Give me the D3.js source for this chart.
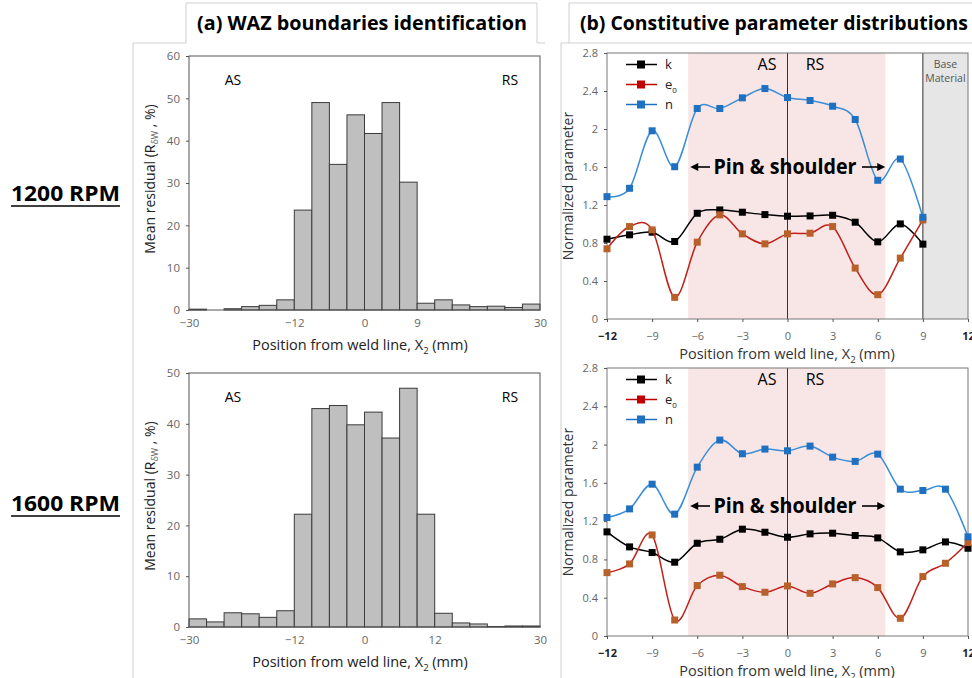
<!DOCTYPE html>
<html>
<head>
<meta charset="utf-8">
<script src="https://cdn.jsdelivr.net/npm/d3@7"></script>
<style>
  body { margin: 0; background: #fff; }
  text { font-family: "Open Sans", "Noto Sans", sans-serif; }
</style>
</head>
<body>
<svg id="chart" width="972" height="678"></svg>
<script>
// histogram bins (lower edge, mm), 3 mm wide
const binStarts = [-30, -27, -24, -21, -18, -15, -12, -9, -6, -3, 0, 3, 6, 9, 12, 15, 18, 21, 24, 27]
const residual1200 = [0.2, 0, 0.3, 0.8, 1.1, 2.4, 23.6, 49.0, 34.4, 46.1, 41.7, 49.0, 30.2, 1.6, 2.4, 1.2, 0.8, 0.9, 0.6, 1.4]
const residual1600 = [1.6, 1.0, 2.8, 2.6, 1.9, 3.2, 22.2, 43.0, 43.6, 39.8, 42.3, 37.2, 47.0, 22.2, 2.7, 0.8, 0.6, 0.1, 0.2, 0.2]
const histTicks1200 = [-30, -12, 0, 9, 30]
const histTicks1600 = [-30, -12, 0, 12, 30]

// constitutive parameters
const pos1200 = [-12, -10.5, -9, -7.5, -6, -4.5, -3, -1.5, 0, 1.5, 3, 4.5, 6, 7.5, 9]
const k1200 = [0.84, 0.886, 0.914, 0.816, 1.113, 1.148, 1.124, 1.099, 1.082, 1.085, 1.092, 1.019, 0.812, 1.001, 0.788]
const e1200 = [0.739, 0.973, 0.938, 0.228, 0.809, 1.096, 0.896, 0.791, 0.896, 0.903, 0.973, 0.536, 0.256, 0.641, 1.043]
const n1200 = [1.288, 1.376, 1.981, 1.603, 2.216, 2.216, 2.328, 2.426, 2.331, 2.30, 2.24, 2.10, 1.46, 1.684, 1.071]

const pos1600 = [-12, -10.5, -9, -7.5, -6, -4.5, -3, -1.5, 0, 1.5, 3, 4.5, 6, 7.5, 9, 10.5, 12]
const k1600 = [1.088, 0.931, 0.872, 0.771, 0.969, 1.011, 1.116, 1.084, 1.032, 1.067, 1.074, 1.050, 1.025, 0.879, 0.900, 0.983, 0.917]
const e1600 = [0.662, 0.753, 1.056, 0.167, 0.527, 0.635, 0.516, 0.457, 0.523, 0.446, 0.544, 0.610, 0.506, 0.185, 0.621, 0.760, 0.976]
const n1600 = [1.238, 1.328, 1.586, 1.273, 1.764, 2.047, 1.904, 1.953, 1.935, 1.984, 1.869, 1.824, 1.900, 1.534, 1.520, 1.534, 1.036]

const lineTicksX = [-12, -9, -6, -3, 0, 3, 6, 9, 12]
const lineTicksY = [0, 0.4, 0.8, 1.2, 1.6, 2, 2.4, 2.8]
const pinZone = [-6.6, 6.5]
const baseZone = [9, 12]

const series = [
  { name: 'k', line: '#000000', marker: '#000000', legend: '#000000' },
  { name: 'e', line: '#c0201a', marker: '#b8602a', legend: '#c00000' },
  { name: 'n', line: '#3a8dd6', marker: '#1f70c0', legend: '#1f70c0' }
]

const svg = d3.select('#chart')

// panel frames
svg.append('path')
  .attr('d', 'M133,678 V43 H186 V3 H537 V43 H545')
  .attr('fill', 'none').attr('stroke', '#cfcfcf')
svg.append('path')
  .attr('d', 'M561,678 V43 H569 V3 H980 M569,43 H980')
  .attr('fill', 'none').attr('stroke', '#cfcfcf')

svg.append('text').text('(a) WAZ boundaries identification')
  .attr('x', 197).attr('y', 30).attr('font-size', 20).attr('font-weight', 'bold')
  .attr('textLength', 330).attr('lengthAdjust', 'spacingAndGlyphs')
svg.append('text').text('(b) Constitutive parameter distributions')
  .attr('x', 580).attr('y', 30).attr('font-size', 20).attr('font-weight', 'bold')
  .attr('textLength', 388).attr('lengthAdjust', 'spacingAndGlyphs')

const rowLabel = (label, y) => {
  svg.append('text').text(label)
    .attr('x', 11).attr('y', y).attr('font-size', 22).attr('font-weight', 'bold')
    .attr('textLength', 109).attr('lengthAdjust', 'spacingAndGlyphs')
  svg.append('line').attr('x1', 11).attr('x2', 120).attr('y1', y + 5).attr('y2', y + 5)
    .attr('stroke', '#000').attr('stroke-width', 1.5)
}
rowLabel('1200 RPM', 201)
rowLabel('1600 RPM', 511)

function drawHist(values, ticks, yMax, top, bottom) {
  const x = d3.scaleLinear().domain([-30, 30]).range([189, 540])
  const y = d3.scaleLinear().domain([0, yMax]).range([bottom, top])
  const g = svg.append('g')

  g.selectAll('rect.bar')
    .data(values)
    .enter()
    .append('rect')
    .attr('x', (d, i) => x(binStarts[i]))
    .attr('width', (d, i) => x(binStarts[i] + 3) - x(binStarts[i]))
    .attr('y', d => y(d))
    .attr('height', d => y(0) - y(d))
    .attr('fill', '#bfbfbf')
    .attr('stroke', '#3a3a3a')
    .attr('stroke-width', 1)

  g.append('rect')
    .attr('x', 189).attr('y', top).attr('width', 351).attr('height', bottom - top)
    .attr('fill', 'none').attr('stroke', '#555')

  const yAxis = g.append('g')
    .attr('transform', 'translate(189,0)')
    .call(d3.axisLeft(y).ticks(yMax / 10).tickSize(3).tickPadding(6))
  yAxis.select('.domain').remove()
  yAxis.selectAll('line').attr('stroke', '#555')
  yAxis.selectAll('text').attr('fill', '#666').attr('font-size', 11.5)
    .style('font-family', '"Open Sans", sans-serif')

  const xAxis = g.append('g')
    .attr('transform', `translate(0,${bottom})`)
    .call(d3.axisBottom(x).tickValues(ticks).tickSize(0).tickPadding(9))
  xAxis.select('.domain').remove()
  xAxis.selectAll('text').attr('fill', '#666').attr('font-size', 11.5)
    .style('font-family', '"Open Sans", sans-serif')

  g.append('text').text('AS').attr('x', 233).attr('y', top + 29)
    .attr('text-anchor', 'middle').attr('font-size', 14)
  g.append('text').text('RS').attr('x', 510).attr('y', top + 29)
    .attr('text-anchor', 'middle').attr('font-size', 14)

  const xl = g.append('text')
    .attr('x', 360).attr('y', bottom + 40)
    .attr('text-anchor', 'middle').attr('font-size', 14.5).attr('fill', '#222')
  xl.append('tspan').text('Position from weld line, X')
  xl.append('tspan').text('2').attr('font-size', 9.5).attr('dy', 4)
  xl.append('tspan').text(' (mm)').attr('dy', -4)

  const yl = g.append('text')
    .attr('transform', `translate(155,${(top + bottom) / 2 - 4}) rotate(-90)`)
    .attr('text-anchor', 'middle').attr('font-size', 14).attr('fill', '#222')
  yl.append('tspan').text('Mean residual (R')
  yl.append('tspan').text('δW').attr('font-size', 9).attr('dy', 3).attr('fill', '#666')
  yl.append('tspan').text(' , %)').attr('dy', -3)
}

drawHist(residual1200, histTicks1200, 60, 56, 310)
drawHist(residual1600, histTicks1600, 50, 373, 627)

function drawLines(pos, data, top, bottom, withBase) {
  const x = d3.scaleLinear().domain([-12, 12]).range([607, 968])
  const y = d3.scaleLinear().domain([0, 2.8]).range([bottom, top])
  const g = svg.append('g')

  g.append('rect')
    .attr('x', x(pinZone[0])).attr('width', x(pinZone[1]) - x(pinZone[0]))
    .attr('y', top).attr('height', bottom - top)
    .attr('fill', '#f8e6e6')
  if (withBase) {
    g.append('rect')
      .attr('x', x(baseZone[0])).attr('width', x(baseZone[1]) - x(baseZone[0]))
      .attr('y', top).attr('height', bottom - top)
      .attr('fill', '#e6e6e6')
    g.append('line').attr('x1', x(baseZone[0])).attr('x2', x(baseZone[0]))
      .attr('y1', top).attr('y2', bottom).attr('stroke', '#333')
    g.append('text').text('Base').attr('x', x(10.5)).attr('y', top + 15)
      .attr('text-anchor', 'middle').attr('font-size', 10.5).attr('fill', '#555')
    g.append('text').text('Material').attr('x', x(10.5)).attr('y', top + 29)
      .attr('text-anchor', 'middle').attr('font-size', 10.5).attr('fill', '#555')
  }
  g.append('line').attr('x1', x(0)).attr('x2', x(0))
    .attr('y1', top).attr('y2', bottom).attr('stroke', '#333')

  g.append('rect')
    .attr('x', 607).attr('y', top).attr('width', 361).attr('height', bottom - top)
    .attr('fill', 'none').attr('stroke', '#777')

  const yAxis = g.append('g')
    .attr('transform', 'translate(607,0)')
    .call(d3.axisLeft(y).tickValues(lineTicksY).tickSize(3).tickPadding(6).tickFormat(d3.format('~g')))
  yAxis.select('.domain').remove()
  yAxis.selectAll('line').attr('stroke', '#555')
  yAxis.selectAll('text').attr('fill', '#666').attr('font-size', 11)
    .style('font-family', '"Open Sans", sans-serif')

  const xAxis = g.append('g')
    .attr('transform', `translate(0,${bottom})`)
    .call(d3.axisBottom(x).tickValues(lineTicksX).tickSize(3).tickPadding(10))
  xAxis.select('.domain').remove()
  xAxis.selectAll('line').attr('stroke', '#555')
  xAxis.selectAll('text').attr('fill', '#666').attr('font-size', 11)
    .style('font-family', '"Open Sans", sans-serif')
    .attr('font-weight', d => Math.abs(d) === 12 ? 'bold' : 'normal')
    .attr('fill', d => Math.abs(d) === 12 ? '#222' : '#666')

  g.append('text').text('AS').attr('x', 767).attr('y', top + 17)
    .attr('text-anchor', 'middle').attr('font-size', 16)
  g.append('text').text('RS').attr('x', 815).attr('y', top + 17)
    .attr('text-anchor', 'middle').attr('font-size', 16)

  const line = d3.line()
    .x(d => x(d[0]))
    .y(d => y(d[1]))
    .curve(d3.curveCardinal.tension(0))

  series.forEach((s, si) => {
    const pts = pos.map((p, i) => [p, data[si][i]])
    g.append('path').datum(pts).attr('d', line)
      .attr('fill', 'none').attr('stroke', s.line).attr('stroke-width', 1.5)
    g.selectAll(null).data(pts).enter().append('rect')
      .attr('x', d => x(d[0]) - 3.5).attr('y', d => y(d[1]) - 3.5)
      .attr('width', 7).attr('height', 7).attr('fill', s.marker)
  })

  // legend
  series.forEach((s, si) => {
    const ly = top + 11.5 + si * 20
    g.append('line').attr('x1', 626).attr('x2', 657).attr('y1', ly).attr('y2', ly)
      .attr('stroke', s.legend).attr('stroke-width', 1.5)
    g.append('rect').attr('x', 637).attr('y', ly - 4).attr('width', 8).attr('height', 8)
      .attr('fill', s.legend)
    const t = g.append('text').attr('x', 665).attr('y', ly + 4.5).attr('font-size', 13).attr('fill', '#222')
    if (s.name === 'e') {
      t.append('tspan').text('e')
      t.append('tspan').text('0').attr('font-size', 8).attr('dy', 4)
    } else {
      t.text(s.name)
    }
  })

  // pin & shoulder
  const py = top + (withBase ? 114 : 138)
  g.append('text').text('Pin & shoulder').attr('x', 785).attr('y', py + 7)
    .attr('text-anchor', 'middle').attr('font-size', 22).attr('font-weight', 'bold')
    .attr('textLength', 143).attr('lengthAdjust', 'spacingAndGlyphs')
  const arrow = (xFrom, xTo) => {
    const dir = Math.sign(xTo - xFrom)
    g.append('line').attr('x1', xFrom).attr('x2', xTo - dir * 6).attr('y1', py).attr('y2', py)
      .attr('stroke', '#000').attr('stroke-width', 1.6)
    g.append('path')
      .attr('d', `M${xTo},${py} L${xTo - dir * 8},${py - 4} L${xTo - dir * 8},${py + 4} Z`)
      .attr('fill', '#000')
  }
  arrow(710, x(pinZone[0]) + 2)
  arrow(862, x(pinZone[1]))

  const xl = g.append('text')
    .attr('x', 787).attr('y', bottom + 40)
    .attr('text-anchor', 'middle').attr('font-size', 14.5).attr('fill', '#333')
  xl.append('tspan').text('Position from weld line, X')
  xl.append('tspan').text('2').attr('font-size', 9.5).attr('dy', 4)
  xl.append('tspan').text(' (mm)').attr('dy', -4)

  g.append('text').text('Normalized parameter')
    .attr('transform', `translate(573,${(top + bottom) / 2}) rotate(-90)`)
    .attr('text-anchor', 'middle').attr('font-size', 14).attr('fill', '#333')
}

drawLines(pos1200, [k1200, e1200, n1200], 53, 319, true)
drawLines(pos1600, [k1600, e1600, n1600], 368, 636, false)
</script>
</body>
</html>
